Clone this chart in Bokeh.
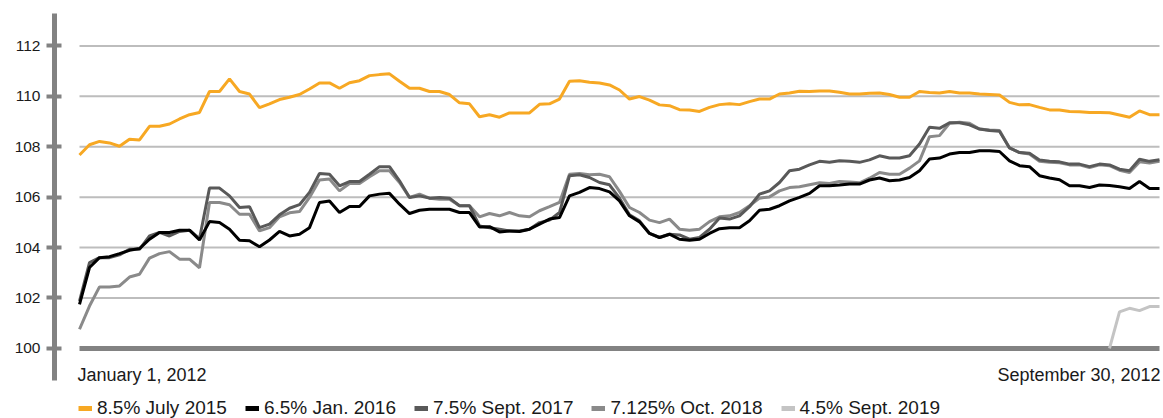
import pandas as pd
from bokeh.plotting import figure
from bokeh.models import (Range1d, FixedTicker, Label, Legend, LegendItem,
                          ColumnDataSource)
from bokeh.embed import file_html
from bokeh.resources import INLINE

# ---------------- data ----------------
start_label = "January 1, 2012"
end_label = "September 30, 2012"
y_ticks = [100, 102, 104, 106, 108, 110, 112]

names = ["8.5% July 2015", "6.5% Jan. 2016", "7.5% Sept. 2017",
         "7.125% Oct. 2018", "4.5% Sept. 2019"]

july_2015 = [
    107.67, 108.08, 108.21, 108.15, 108.02, 108.30, 108.27, 108.81, 108.81, 108.90, 109.10,
    109.27, 109.36, 110.19, 110.19, 110.69, 110.19, 110.09, 109.55, 109.70, 109.87, 109.96,
    110.07, 110.29, 110.53, 110.53, 110.32, 110.54, 110.62, 110.82, 110.86, 110.89, 110.60,
    110.32, 110.32, 110.19, 110.19, 110.07, 109.74, 109.70, 109.19, 109.27, 109.17, 109.34,
    109.34, 109.34, 109.68, 109.70, 109.89, 110.60, 110.62, 110.56, 110.53, 110.45, 110.25,
    109.89, 109.99, 109.85, 109.66, 109.63, 109.47, 109.46, 109.40, 109.56, 109.67,
    109.70, 109.67, 109.79, 109.89, 109.89, 110.09, 110.13, 110.20, 110.19, 110.21, 110.21,
    110.16, 110.09, 110.09, 110.12, 110.13, 110.07, 109.96, 109.96, 110.19, 110.15, 110.13,
    110.19, 110.13, 110.13, 110.09, 110.07, 110.05, 109.76, 109.66, 109.67, 109.56, 109.46,
    109.46, 109.40, 109.39, 109.36, 109.36, 109.35, 109.26, 109.17, 109.42, 109.27, 109.27,
]
jan_2016 = [
    101.75, 103.21, 103.60, 103.64, 103.76, 103.89, 103.96, 104.33, 104.60, 104.60, 104.69,
    104.69, 104.30, 105.03, 104.99, 104.73, 104.29, 104.27, 104.03, 104.30, 104.64, 104.46,
    104.53, 104.79, 105.79, 105.85, 105.39, 105.63, 105.63, 106.05, 106.12, 106.15, 105.72,
    105.35, 105.48, 105.52, 105.52, 105.52, 105.39, 105.39, 104.82, 104.83, 104.62, 104.66,
    104.64, 104.73, 104.93, 105.13, 105.19, 106.05, 106.19, 106.38, 106.34, 106.21, 105.85,
    105.26, 105.02, 104.56, 104.40, 104.53, 104.33, 104.29, 104.33, 104.56, 104.75,
    104.79, 104.79, 105.06, 105.48, 105.52, 105.66, 105.85, 105.99, 106.15, 106.45, 106.45,
    106.48, 106.52, 106.52, 106.68, 106.76, 106.65, 106.68, 106.78, 107.05, 107.51, 107.55,
    107.71, 107.77, 107.77, 107.84, 107.84, 107.81, 107.44, 107.25, 107.21, 106.85, 106.76,
    106.69, 106.45, 106.45, 106.38, 106.48, 106.46, 106.41, 106.34, 106.62, 106.34, 106.34,
]
sept_2017 = [
    101.88, 103.40, 103.60, 103.60, 103.71, 103.93, 103.93, 104.46, 104.60, 104.46, 104.64,
    104.69, 104.35, 106.36, 106.36, 106.05, 105.59, 105.62, 104.79, 104.93, 105.30, 105.56,
    105.70, 106.19, 106.94, 106.91, 106.45, 106.62, 106.62, 106.91, 107.21, 107.21, 106.65,
    105.99, 106.05, 105.96, 105.99, 105.96, 105.66, 105.66, 104.86, 104.79, 104.73, 104.66,
    104.66, 104.73, 104.99, 105.09, 105.39, 106.85, 106.89, 106.78, 106.58, 106.49, 105.96,
    105.30, 105.06, 104.56, 104.40, 104.53, 104.50, 104.33, 104.40, 104.73, 105.17,
    105.13, 105.26, 105.62, 106.12, 106.25, 106.58, 107.05, 107.11, 107.28, 107.42, 107.38,
    107.44, 107.42, 107.38, 107.48, 107.64, 107.55, 107.55, 107.64, 108.11, 108.77, 108.73,
    108.95, 108.95, 108.87, 108.70, 108.64, 108.61, 107.95, 107.77, 107.74, 107.47, 107.42,
    107.40, 107.31, 107.31, 107.21, 107.31, 107.28, 107.11, 107.05, 107.50, 107.42, 107.48,
]
oct_2018 = [
    100.76, 101.68, 102.44, 102.44, 102.48, 102.83, 102.94, 103.58, 103.76, 103.84, 103.54,
    103.54, 103.20, 105.79, 105.79, 105.70, 105.32, 105.32, 104.66, 104.79, 105.22, 105.38,
    105.43, 105.99, 106.68, 106.72, 106.25, 106.54, 106.54, 106.81, 107.05, 107.05, 106.58,
    105.99, 106.12, 105.96, 105.92, 105.92, 105.66, 105.66, 105.22, 105.35, 105.26, 105.39,
    105.26, 105.22, 105.46, 105.62, 105.79, 106.91, 106.94, 106.89, 106.91, 106.81, 106.23,
    105.59, 105.39, 105.09, 104.99, 105.13, 104.73, 104.69, 104.73, 105.03, 105.22,
    105.26, 105.39, 105.66, 105.96, 106.01, 106.25, 106.38, 106.41, 106.49, 106.57, 106.54,
    106.62, 106.60, 106.57, 106.75, 106.98, 106.91, 106.91, 107.15, 107.44, 108.40, 108.44,
    108.93, 108.97, 108.93, 108.70, 108.66, 108.64, 107.95, 107.77, 107.71, 107.42, 107.38,
    107.36, 107.28, 107.28, 107.17, 107.28, 107.25, 107.07, 106.98, 107.40, 107.35, 107.42,
]
# 4.5% Sept. 2019 only trades over the last few observations
sept_2019 = [100.0, 101.45, 101.59, 101.50, 101.66, 101.66]

colors = ["#f7a823", "#000000", "#595959", "#8a8a8a", "#c4c4c4"]

# observation dates, evenly spread over the period shown
dates = list(pd.date_range("2012-01-01", "2012-09-30", periods=len(july_2015)))
step = dates[1] - dates[0]

FONT = "Liberation Sans"
AXIS_GRAY = "#828282"
TEXT = "#1a1a1a"

p = figure(width=1163, height=418, output_backend="svg", toolbar_location=None,
           x_axis_location=None,
           x_range=Range1d(dates[0] - 2.5 * step, dates[-1] + 0.4 * step),
           y_range=Range1d(97.22, 113.80),
           min_border_left=54, min_border_right=0, min_border_top=0,
           min_border_bottom=0)
p.outline_line_color = None
p.background_fill_color = "white"
p.border_fill_color = "white"
p.xgrid.visible = False
p.ygrid.visible = False

# horizontal grid lines that start at the first observation
grid_src = ColumnDataSource(dict(x0=[dates[0]] * (len(y_ticks) - 1),
                                 x1=[dates[-1]] * (len(y_ticks) - 1),
                                 y=y_ticks[1:]))
p.segment(x0="x0", x1="x1", y0="y", y1="y", source=grid_src,
          line_color="#bdbdbd", line_width=2)
# base line at 100
p.segment(x0=[dates[0]], x1=[dates[-1]], y0=[y_ticks[0]], y1=[y_ticks[0]],
          line_color=AXIS_GRAY, line_width=5)

yax = p.yaxis[0]
yax.ticker = FixedTicker(ticks=y_ticks)
yax.bounds = (98.73, 113.29)
yax.axis_line_color = AXIS_GRAY
yax.axis_line_width = 5
yax.major_tick_line_color = AXIS_GRAY
yax.major_tick_line_width = 4
yax.major_tick_in = 7
yax.major_tick_out = 8
yax.minor_tick_line_color = None
yax.major_label_standoff = 6
yax.major_label_text_font = FONT
yax.major_label_text_font_size = "15.5px"
yax.major_label_text_color = TEXT

series = [july_2015, jan_2016, sept_2017, oct_2018]
for idx in [3, 2, 1, 0]:
    p.line(dates, series[idx], line_color=colors[idx], line_width=3)
p.line(dates[-len(sept_2019):], sept_2019, line_color=colors[4], line_width=3)

# legend keys: short thick dashes in each series colour (one undefined point each,
# so nothing shows inside the plot area)
keys = [p.line(x=[dates[0]], y=[float("nan")], line_color=c, line_width=5) for c in colors]
legend = Legend(items=[LegendItem(label=n, renderers=[k]) for n, k in zip(names, keys)],
                orientation="horizontal", location=(24, -1),
                glyph_width=14, glyph_height=18, label_height=18, label_standoff=5,
                spacing=18, padding=0, margin=0, border_line_color=None,
                background_fill_alpha=0, label_text_font=FONT,
                label_text_font_size="19px", label_text_color=TEXT)
p.add_layout(legend)

p.add_layout(Label(x=dates[0], y=98.93, text=start_label, text_align="left",
                   text_baseline="middle", x_offset=-2, text_font=FONT,
                   text_font_size="18px", text_color=TEXT))
p.add_layout(Label(x=dates[-1], y=98.93, text=end_label, text_align="right",
                   text_baseline="middle", x_offset=1, text_font=FONT,
                   text_font_size="18px", text_color=TEXT))

open("out.html", "w").write(file_html(p, INLINE))
